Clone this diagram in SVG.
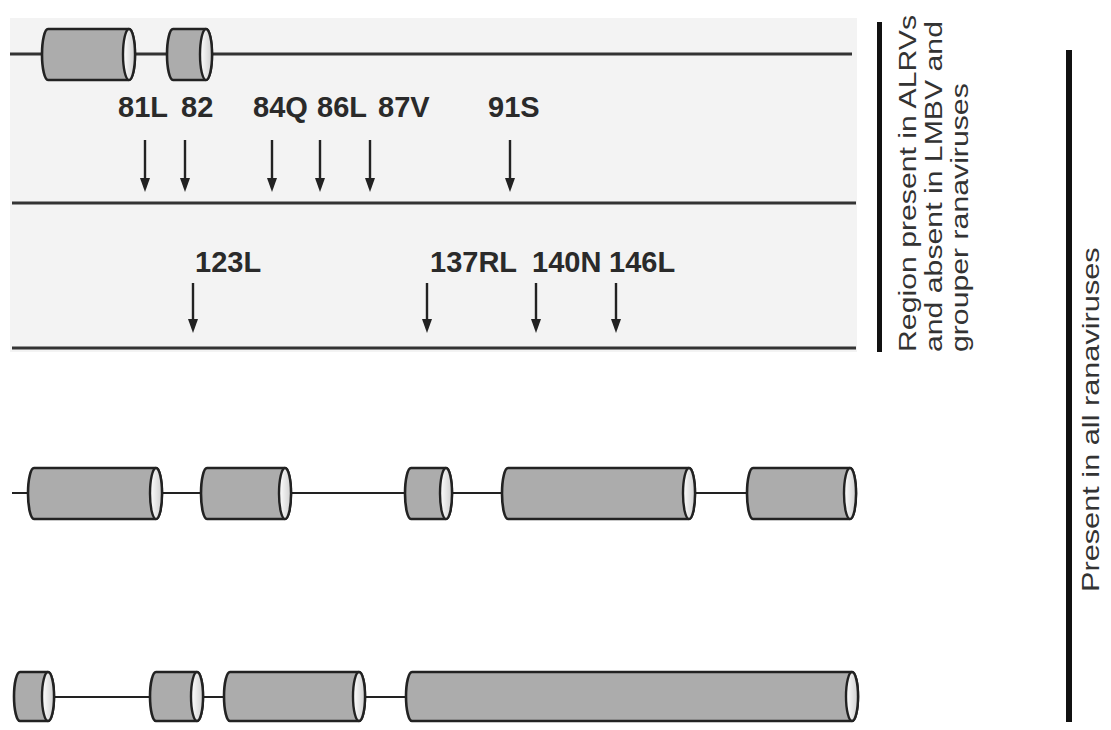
<svg xmlns="http://www.w3.org/2000/svg" width="1111" height="730" viewBox="0 0 1111 730">
<defs>
<style>
.bg{fill:#f3f3f3}
.ln{stroke:#333;stroke-width:3;fill:none}
.thin{stroke:#222;stroke-width:2.2;fill:none}
.body{fill:#acacac;stroke:#222;stroke-width:2.6;stroke-linejoin:round}
.cap{fill:url(#capg);stroke:#222;stroke-width:2.4}
.lbl{font-family:"Liberation Sans",Arial,sans-serif;font-size:29px;font-weight:bold;fill:#2a2a2a}
.rot{font-family:"Liberation Sans",Arial,sans-serif;font-size:24px;fill:#333}
.arr{stroke:#222;stroke-width:2.4}
.bar{fill:#111}
</style>
<linearGradient id="capg" x1="0" y1="0" x2="1" y2="0">
<stop offset="0" stop-color="#ffffff"/>
<stop offset="1" stop-color="#cfcfcf"/>
</linearGradient>
</defs>

<rect class="bg" x="10" y="18" width="847" height="334"/>

<g id="connectors">
<line class="ln" x1="10" y1="54" x2="852" y2="54"/>
<line class="ln" x1="12" y1="203" x2="856" y2="203"/>
<line class="ln" x1="12" y1="348" x2="856" y2="348"/>
<line class="thin" x1="12" y1="493" x2="850" y2="493"/>
<line class="thin" x1="48" y1="697" x2="412" y2="697"/>
<g class="arr">
<line x1="145" y1="140" x2="145" y2="180"/>
<line x1="185" y1="140" x2="185" y2="180"/>
<line x1="272" y1="140" x2="272" y2="180"/>
<line x1="320" y1="140" x2="320" y2="180"/>
<line x1="370" y1="140" x2="370" y2="180"/>
<line x1="510" y1="140" x2="510" y2="180"/>
<line x1="193" y1="283" x2="193" y2="321"/>
<line x1="427" y1="283" x2="427" y2="321"/>
<line x1="536" y1="283" x2="536" y2="321"/>
<line x1="616" y1="283" x2="616" y2="321"/>
</g>
<g fill="#222">
<path d="M140,178 L150,178 L145,192 Z"/>
<path d="M180,178 L190,178 L185,192 Z"/>
<path d="M267,178 L277,178 L272,192 Z"/>
<path d="M315,178 L325,178 L320,192 Z"/>
<path d="M365,178 L375,178 L370,192 Z"/>
<path d="M505,178 L515,178 L510,192 Z"/>
<path d="M188,319 L198,319 L193,333 Z"/>
<path d="M422,319 L432,319 L427,333 Z"/>
<path d="M531,319 L541,319 L536,333 Z"/>
<path d="M611,319 L621,319 L616,333 Z"/>
</g>
</g>

<g id="row1-cyl1"><path class="body" d="M48,29 L129,29 A6,25.5 0 0 1 129,80 L48,80 A6,25.5 0 0 1 48,29 Z"/><ellipse class="cap" cx="129" cy="54.5" rx="6" ry="25.5"/></g>
<g id="row1-cyl2"><path class="body" d="M173,29 L206,29 A6,25.5 0 0 1 206,80 L173,80 A6,25.5 0 0 1 173,29 Z"/><ellipse class="cap" cx="206" cy="54.5" rx="6" ry="25.5"/></g>

<g id="row3-cyl1"><path class="body" d="M34,468 L156,468 A6,25.5 0 0 1 156,519 L34,519 A6,25.5 0 0 1 34,468 Z"/><ellipse class="cap" cx="156" cy="493.5" rx="6" ry="25.5"/></g>
<g id="row3-cyl2"><path class="body" d="M207,468 L285,468 A6,25.5 0 0 1 285,519 L207,519 A6,25.5 0 0 1 207,468 Z"/><ellipse class="cap" cx="285" cy="493.5" rx="6" ry="25.5"/></g>
<g id="row3-cyl3"><path class="body" d="M411,468 L446,468 A6,25.5 0 0 1 446,519 L411,519 A6,25.5 0 0 1 411,468 Z"/><ellipse class="cap" cx="446" cy="493.5" rx="6" ry="25.5"/></g>
<g id="row3-cyl4"><path class="body" d="M508,468 L689,468 A6,25.5 0 0 1 689,519 L508,519 A6,25.5 0 0 1 508,468 Z"/><ellipse class="cap" cx="689" cy="493.5" rx="6" ry="25.5"/></g>
<g id="row3-cyl5"><path class="body" d="M753,468 L850,468 A6,25.5 0 0 1 850,519 L753,519 A6,25.5 0 0 1 753,468 Z"/><ellipse class="cap" cx="850" cy="493.5" rx="6" ry="25.5"/></g>

<g id="row4-cyl1"><path class="body" d="M20,672 L48,672 A6,24.5 0 0 1 48,721 L20,721 A6,24.5 0 0 1 20,672 Z"/><ellipse class="cap" cx="48" cy="696.5" rx="6" ry="24.5"/></g>
<g id="row4-cyl2"><path class="body" d="M156,672 L197,672 A6,24.5 0 0 1 197,721 L156,721 A6,24.5 0 0 1 156,672 Z"/><ellipse class="cap" cx="197" cy="696.5" rx="6" ry="24.5"/></g>
<g id="row4-cyl3"><path class="body" d="M230,672 L359,672 A6,24.5 0 0 1 359,721 L230,721 A6,24.5 0 0 1 230,672 Z"/><ellipse class="cap" cx="359" cy="696.5" rx="6" ry="24.5"/></g>
<g id="row4-cyl4"><path class="body" d="M412,672 L852,672 A6,24.5 0 0 1 852,721 L412,721 A6,24.5 0 0 1 412,672 Z"/><ellipse class="cap" cx="852" cy="696.5" rx="6" ry="24.5"/></g>

<g id="labels">
<text class="lbl" x="118" y="117">81L</text>
<text class="lbl" x="181" y="117">82</text>
<text class="lbl" x="253" y="117">84Q</text>
<text class="lbl" x="317" y="117">86L</text>
<text class="lbl" x="378" y="117">87V</text>
<text class="lbl" x="488" y="117">91S</text>
<text class="lbl" x="195" y="272">123L</text>
<text class="lbl" x="430" y="272">137RL</text>
<text class="lbl" x="532" y="272">140N</text>
<text class="lbl" x="609" y="272">146L</text>
</g>

<g id="bar-region">
<rect class="bar" x="877" y="22" width="5" height="330"/>
<text class="rot" transform="translate(916,352) rotate(-90) scale(1.26,1)">Region present in ALRVs</text>
<text class="rot" transform="translate(942,352) rotate(-90) scale(1.26,1)">and absent in LMBV and</text>
<text class="rot" transform="translate(968,352) rotate(-90) scale(1.26,1)">grouper ranaviruses</text>
</g>

<g id="bar-all">
<rect class="bar" x="1066" y="50" width="6" height="672"/>
<text class="rot" transform="translate(1099,592) rotate(-90) scale(1.28,1)">Present in all ranaviruses</text>
</g>
</svg>
